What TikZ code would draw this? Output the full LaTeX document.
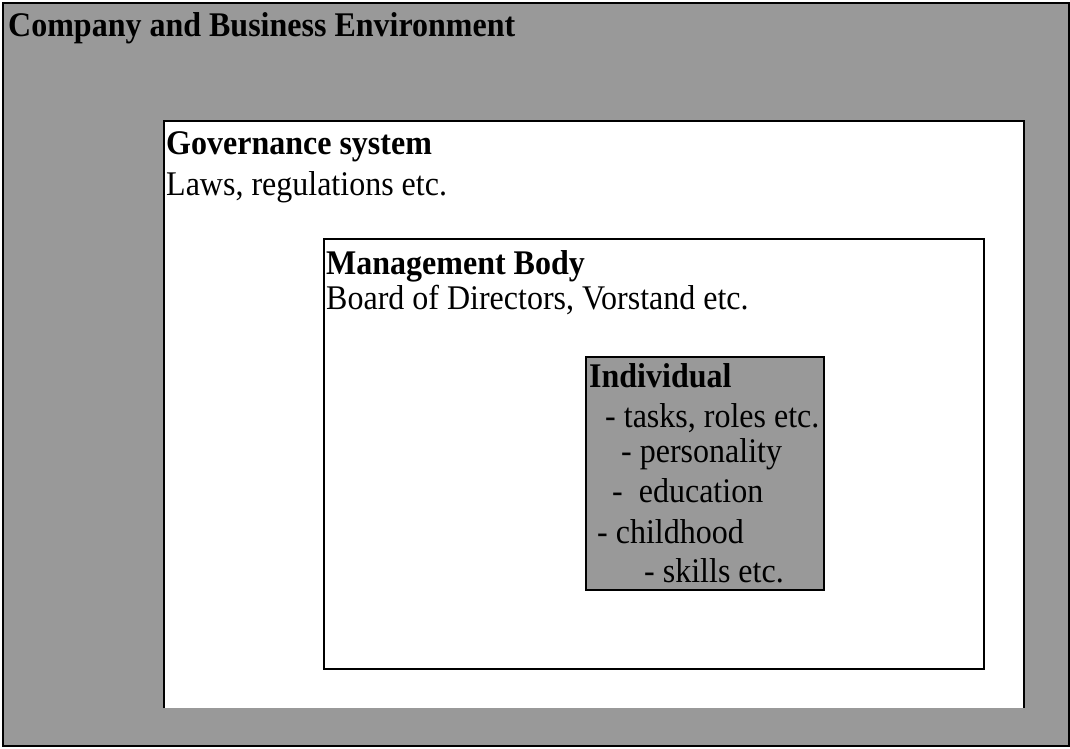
\documentclass[tikz,border=0pt]{standalone}
\usepackage{fontspec}
\usepackage{graphicx}
\setmainfont{Liberation Serif}
\definecolor{boxgrey}{RGB}{153,153,153}
\newcommand{\tallt}[1]{\scalebox{1}[1.08]{#1}}
\begin{document}
\begin{tikzpicture}[x=1pt,y=-1pt,
  txt/.style={anchor=base west,inner sep=0pt,font=\fontsize{32}{38}\selectfont},
  ttl/.style={txt,font=\fontsize{32}{38}\selectfont\bfseries},
  frame/.style={draw=black,line width=2pt}]
\useasboundingbox (0,0) rectangle (1070,748);
% outer
\path[fill=boxgrey,frame] (3,3) rectangle (1068.5,746);
\node[ttl] (company) at (8,36) {\tallt{Company and Business Environment}};
% governance (open at bottom)
\fill[white] (164,121) rectangle (1024,708);
\draw[frame] (164,708) -- (164,121) -- (1024,121) -- (1024,708);
\node[ttl] (gov) at (166,154) {\tallt{Governance system}};
\node[txt] (laws) at (166,195) {\tallt{Laws, regulations etc.}};
% management
\path[fill=white,frame] (324,239) rectangle (984,669);
\node[ttl] (mgmt) at (326,274) {\tallt{Management Body}};
\node[txt] (board) at (326,309) {\tallt{Board of Directors, Vorstand etc.}};
% individual
\path[fill=boxgrey,frame] (586,357) rectangle (824,590);
\node[ttl] (ind) at (589,387) {\tallt{Individual}};
\node[txt] (i1) at (605,427) {\tallt{- tasks, roles etc.}};
\node[txt] (i2) at (621,462) {\tallt{- personality}};
\node[txt] (i3) at (612,502) {\tallt{-\hspace{0.5em}education}};
\node[txt] (i4) at (597,543) {\tallt{- childhood}};
\node[txt] (i5) at (644,582) {\tallt{- skills etc.}};
\end{tikzpicture}
\end{document}
